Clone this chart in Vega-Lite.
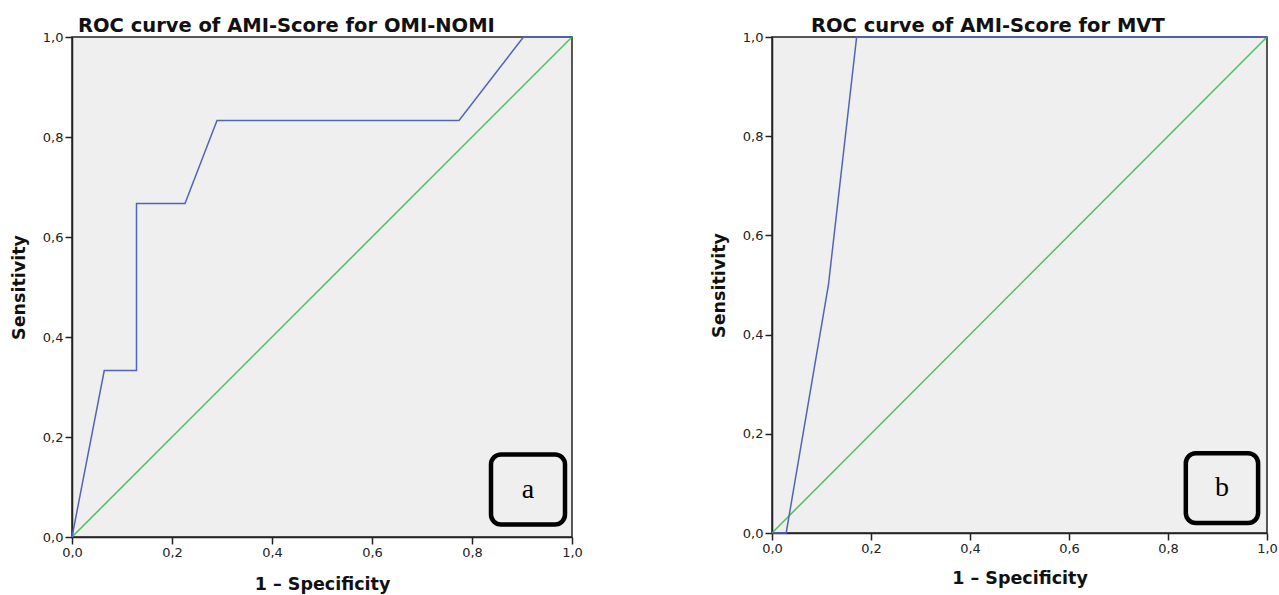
{
  "$schema": "https://vega.github.io/schema/vega-lite/v6.json",
  "background": "white",
  "padding": {"left": 9, "top": 15, "right": 5, "bottom": 0},
  "spacing": 125,
  "datasets": {
    "rocA": [
      {"i": 0, "fpr": 0.0, "tpr": 0.0},
      {"i": 1, "fpr": 0.0645, "tpr": 0.333},
      {"i": 2, "fpr": 0.129, "tpr": 0.333},
      {"i": 3, "fpr": 0.129, "tpr": 0.667},
      {"i": 4, "fpr": 0.226, "tpr": 0.667},
      {"i": 5, "fpr": 0.290, "tpr": 0.833},
      {"i": 6, "fpr": 0.774, "tpr": 0.833},
      {"i": 7, "fpr": 0.903, "tpr": 1.0},
      {"i": 8, "fpr": 1.0, "tpr": 1.0}
    ],
    "rocB": [
      {"i": 0, "fpr": 0.0, "tpr": 0.0},
      {"i": 1, "fpr": 0.0286, "tpr": 0.0},
      {"i": 2, "fpr": 0.114, "tpr": 0.5},
      {"i": 3, "fpr": 0.171, "tpr": 1.0},
      {"i": 4, "fpr": 1.0, "tpr": 1.0}
    ],
    "diag": [
      {"i": 0, "fpr": 0.0, "tpr": 0.0},
      {"i": 1, "fpr": 1.0, "tpr": 1.0}
    ],
    "boxA": [{"x1": 0.838, "x2": 0.986, "y1": 0.025, "y2": 0.165, "xc": 0.912, "yc": 0.095, "label": "a"}],
    "boxB": [{"x1": 0.836, "x2": 0.982, "y1": 0.02, "y2": 0.161, "xc": 0.909, "yc": 0.09, "label": "b"}]
  },
  "config": {
    "view": {"fill": "#efefef", "stroke": "#222", "strokeWidth": 1.5},
    "axis": {
      "grid": false,
      "domainColor": "#222",
      "domainWidth": 1.5,
      "tickColor": "#222",
      "tickWidth": 1.5,
      "tickSize": 7,
      "labelFont": "DejaVu Sans",
      "labelFontSize": 13,
      "labelColor": "#222",
      "labelPadding": 2,
      "labelFlush": false,
      "titleFont": "DejaVu Sans",
      "titleFontSize": 17.5,
      "titleFontWeight": "bold",
      "titleColor": "#111"
    },
    "title": {"font": "DejaVu Sans", "fontSize": 19.5, "fontWeight": "bold", "color": "#111", "anchor": "start", "frame": "group", "offset": -5.5}
  },
  "hconcat": [
    {
      "width": 500,
      "height": 500,
      "title": {"text": "ROC curve of AMI-Score for OMI-NOMI", "dx": 6},
      "layer": [
        {
          "data": {"name": "diag"},
          "mark": {"type": "line", "color": "#4cc060", "strokeWidth": 1.5},
          "encoding": {
            "x": {"field": "fpr", "type": "quantitative", "scale": {"domain": [0, 1], "nice": false},
              "axis": {"title": "1 – Specificity", "values": [0, 0.2, 0.4, 0.6, 0.8, 1.0], "labelExpr": "replace(format(datum.value, '.1f'), '.', ',')", "titlePadding": 16}},
            "y": {"field": "tpr", "type": "quantitative", "scale": {"domain": [0, 1], "nice": false},
              "axis": {"title": "Sensitivity", "values": [0, 0.2, 0.4, 0.6, 0.8, 1.0], "labelExpr": "replace(format(datum.value, '.1f'), '.', ',')", "titlePadding": 14}},
            "order": {"field": "i", "type": "quantitative"}
          }
        },
        {
          "data": {"name": "rocA"},
          "mark": {"type": "line", "color": "#5264b8", "strokeWidth": 1.5},
          "encoding": {
            "x": {"field": "fpr", "type": "quantitative"},
            "y": {"field": "tpr", "type": "quantitative"},
            "order": {"field": "i", "type": "quantitative"}
          }
        },
        {
          "data": {"name": "boxA"},
          "mark": {"type": "rect", "fill": "#efefef", "stroke": "black", "strokeWidth": 4.5, "cornerRadius": 10},
          "encoding": {
            "x": {"field": "x1", "type": "quantitative"},
            "x2": {"field": "x2"},
            "y": {"field": "y1", "type": "quantitative"},
            "y2": {"field": "y2"}
          }
        },
        {
          "data": {"name": "boxA"},
          "mark": {"type": "text", "font": "Liberation Serif", "fontSize": 28, "color": "black", "baseline": "middle", "align": "center"},
          "encoding": {
            "x": {"field": "xc", "type": "quantitative"},
            "y": {"field": "yc", "type": "quantitative"},
            "text": {"field": "label"}
          }
        }
      ]
    },
    {
      "width": 495,
      "height": 496,
      "title": {"text": "ROC curve of AMI-Score for MVT", "dx": 39},
      "layer": [
        {
          "data": {"name": "diag"},
          "mark": {"type": "line", "color": "#4cc060", "strokeWidth": 1.5},
          "encoding": {
            "x": {"field": "fpr", "type": "quantitative", "scale": {"domain": [0, 1], "nice": false},
              "axis": {"title": "1 – Specificity", "values": [0, 0.2, 0.4, 0.6, 0.8, 1.0], "labelExpr": "replace(format(datum.value, '.1f'), '.', ',')", "titlePadding": 14}},
            "y": {"field": "tpr", "type": "quantitative", "scale": {"domain": [0, 1], "nice": false},
              "axis": {"title": "Sensitivity", "values": [0, 0.2, 0.4, 0.6, 0.8, 1.0], "labelExpr": "replace(format(datum.value, '.1f'), '.', ',')", "titlePadding": 14}},
            "order": {"field": "i", "type": "quantitative"}
          }
        },
        {
          "data": {"name": "rocB"},
          "mark": {"type": "line", "color": "#5264b8", "strokeWidth": 1.5},
          "encoding": {
            "x": {"field": "fpr", "type": "quantitative"},
            "y": {"field": "tpr", "type": "quantitative"},
            "order": {"field": "i", "type": "quantitative"}
          }
        },
        {
          "data": {"name": "boxB"},
          "mark": {"type": "rect", "fill": "#efefef", "stroke": "black", "strokeWidth": 4.5, "cornerRadius": 10},
          "encoding": {
            "x": {"field": "x1", "type": "quantitative"},
            "x2": {"field": "x2"},
            "y": {"field": "y1", "type": "quantitative"},
            "y2": {"field": "y2"}
          }
        },
        {
          "data": {"name": "boxB"},
          "mark": {"type": "text", "font": "Liberation Serif", "fontSize": 28, "color": "black", "baseline": "middle", "align": "center"},
          "encoding": {
            "x": {"field": "xc", "type": "quantitative"},
            "y": {"field": "yc", "type": "quantitative"},
            "text": {"field": "label"}
          }
        }
      ]
    }
  ]
}
